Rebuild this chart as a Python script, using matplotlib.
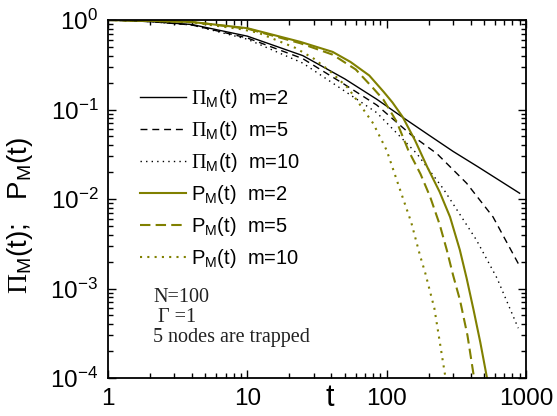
import matplotlib
matplotlib.use("Agg")
import matplotlib.pyplot as plt
from matplotlib.ticker import FixedLocator, FixedFormatter, NullFormatter, LogLocator

plt.rcParams['font.family'] = ['Liberation Sans', 'DejaVu Sans']
plt.rcParams['mathtext.fontset'] = 'custom'
plt.rcParams['mathtext.rm'] = 'Liberation Serif'
plt.rcParams['mathtext.sf'] = 'Liberation Sans'

# Pi_M(t), m=2 / 5 / 10 (black)
t_pi2 = [1, 2, 4, 10, 25, 50, 85, 130, 200, 300, 450, 650, 900]
pi2 = [1, 0.96, 0.89, 0.66, 0.40, 0.22, 0.13, 0.082, 0.052, 0.034, 0.023, 0.016, 0.0116]

t_pi5 = [1, 2, 4, 10, 25, 50, 85, 150, 230, 375, 580, 880]
pi5 = [1, 0.96, 0.88, 0.63, 0.37, 0.19, 0.112, 0.052, 0.032, 0.015, 0.0063, 0.0019]

t_pi10 = [1, 2, 4, 10, 25, 46, 85, 165, 255, 440, 620, 880]
pi10 = [1, 0.96, 0.88, 0.61, 0.33, 0.175, 0.092, 0.032, 0.013, 0.0035, 0.0013, 0.00036]

# P_M(t), m=2 / 5 / 10 (olive)
t_p2 = [1, 2, 4, 10, 24, 41, 55, 75, 95, 110, 130, 160, 195, 240, 285, 335, 375, 420, 470, 525, 560]
p2 = [1, 0.98, 0.95, 0.81, 0.57, 0.44, 0.34, 0.24, 0.158, 0.12, 0.083, 0.045, 0.023, 0.012,
      0.0063, 0.0027, 0.0013, 0.00058, 0.00025, 0.0001, 0.00006]

t_p5 = [1, 2, 4, 10, 24, 41, 60, 80, 95, 118, 143, 175, 205, 240, 270, 300, 336, 380, 420, 450]
p5 = [1, 0.98, 0.95, 0.80, 0.55, 0.41, 0.28, 0.173, 0.128, 0.073, 0.035, 0.019, 0.0106,
      0.0052, 0.0027, 0.0014, 0.00074, 0.0003, 0.00011, 0.00006]

t_p10 = [1, 2, 4, 9, 12, 22, 30, 39, 53, 66, 80, 100, 132, 150, 174, 189, 220, 262, 280]
p10 = [1, 0.98, 0.94, 0.79, 0.72, 0.49, 0.37, 0.27, 0.173, 0.107, 0.07, 0.035, 0.0098,
       0.0055, 0.0023, 0.0015, 0.0006, 0.00011, 0.00006]

xticks = [1, 10, 100, 1000]
xticklabels = ['1', '10', '100', '1000']
yticks = [1e-4, 1e-3, 1e-2, 1e-1, 1]
yticklabels = [r'$\mathsf{10^{-4}}$', r'$\mathsf{10^{-3}}$', r'$\mathsf{10^{-2}}$',
               r'$\mathsf{10^{-1}}$', r'$\mathsf{10^{0}}$']

olive = '#808000'

fig = plt.figure(figsize=(5.57, 4.16), dpi=100)
ax = fig.add_axes([108/557, 38/416, 418/557, 358/416])

ax.plot(t_pi2, pi2, color='black', lw=1.0, label=r'$\Pi_\mathsf{M}$(t)  m=2')
ax.plot(t_pi5, pi5, color='black', lw=1.0, ls=(0, (5, 3.5)), label=r'$\Pi_\mathsf{M}$(t)  m=5')
ax.plot(t_pi10, pi10, color='black', lw=1.0, ls=(0, (1, 3)), label=r'$\Pi_\mathsf{M}$(t)  m=10')
ax.plot(t_p2, p2, color=olive, lw=1.5, label=r'P$_\mathsf{M}$(t)  m=2')
ax.plot(t_p5, p5, color=olive, lw=1.5, ls=(0, (5, 2.5)), label=r'P$_\mathsf{M}$(t)  m=5')
ax.plot(t_p10, p10, color=olive, lw=1.5, ls=(0, (1, 2.5)), label=r'P$_\mathsf{M}$(t)  m=10')

ax.set_xscale('log')
ax.set_yscale('log')
ax.set_xlim(1, 1000)
ax.set_ylim(1e-4, 1)

ax.xaxis.set_major_locator(FixedLocator(xticks))
ax.xaxis.set_major_formatter(FixedFormatter(xticklabels))
ax.yaxis.set_major_locator(FixedLocator(yticks))
ax.yaxis.set_major_formatter(FixedFormatter(yticklabels))
ax.xaxis.set_minor_locator(LogLocator(base=10, subs=range(2, 10), numticks=20))
ax.yaxis.set_minor_locator(LogLocator(base=10, subs=range(2, 10), numticks=20))
ax.xaxis.set_minor_formatter(NullFormatter())
ax.yaxis.set_minor_formatter(NullFormatter())

ax.tick_params(which='both', direction='in', top=True, right=True, width=1.0)
ax.tick_params(which='major', length=6, labelsize=17.5, pad=7)
ax.tick_params(which='minor', length=3.5)
for s in ax.spines.values():
    s.set_linewidth(1.3)

ax.set_xlabel('t', fontsize=22)
ax.xaxis.set_label_coords(0.531, -0.015)
ax.set_ylabel(r'$\Pi_\mathsf{M}$(t);   P$_\mathsf{M}$(t)', fontsize=20)
ax.yaxis.set_label_coords(-0.175, 0.453)

ax.legend(loc='upper left', bbox_to_anchor=(0.058, 0.835), frameon=False, fontsize=14.5,
          handlelength=2.25, handletextpad=0.25, labelspacing=0.45, borderaxespad=0)

ax.text(0.108, 0.226, 'N=100', transform=ax.transAxes, family='Liberation Serif',
        fontsize=14.5, color='#222222', va='center')
ax.text(0.12, 0.168, 'Γ =1', transform=ax.transAxes, family='Liberation Serif',
        fontsize=14.5, color='#222222', va='center')
ax.text(0.108, 0.113, '5 nodes are trapped', transform=ax.transAxes, family='Liberation Serif',
        fontsize=14.5, color='#222222', va='center')

fig.savefig('out.png', dpi=100)
